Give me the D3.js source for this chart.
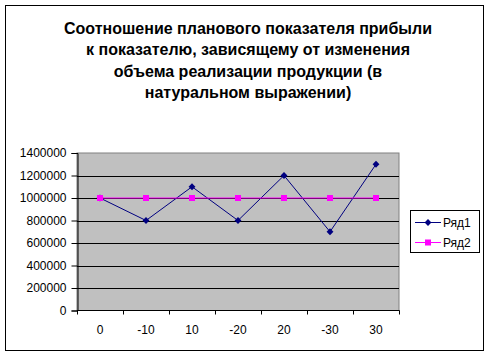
<!DOCTYPE html>
<html><head><meta charset="utf-8">
<script src="https://cdn.jsdelivr.net/npm/d3@7"></script>
<style>body{margin:0;background:#fff}svg{display:block}</style>
</head><body>
<svg id="c" width="490" height="357"></svg>
<script>
const categories = ["0","-10","10","-20","20","-30","30"];
const series1 = [1000000,800000,1100000,800000,1200000,700000,1300000];
const series2 = [1000000,1000000,1000000,1000000,1000000,1000000,1000000];
const seriesNames = ["Ряд1","Ряд2"];
const yTicks = [0,200000,400000,600000,800000,1000000,1200000,1400000];
const titleLines = ["Соотношение планового показателя прибыли","к показателю, зависящему от изменения","объема реализации продукции (в","натуральном выражении)"];

const svg = d3.select("#c");
const font = "'Liberation Sans', Arial, sans-serif";
svg.append("rect").attr("x",5.5).attr("y",5.5).attr("width",478).attr("height",345)
  .attr("fill","#fff").attr("stroke","#000");

const L=77, R=399, T=153, B=310.5;
const x = d3.scaleBand().domain(categories).range([L,R]);
const y = d3.scaleLinear().domain([0,1400000]).range([B,T]);

svg.append("rect").attr("x",L).attr("y",T).attr("width",R-L).attr("height",B-T)
  .attr("fill","#c0c0c0").attr("stroke","#808080");

svg.append("g").selectAll("line").data(yTicks.filter(d=>d>0 && d<1400000)).join("line")
  .attr("x1",L).attr("x2",R).attr("y1",d=>Math.round(y(d))+0.5).attr("y2",d=>Math.round(y(d))+0.5)
  .attr("stroke","#000");

const ya = svg.append("g").attr("transform",`translate(${L+0.5},0)`)
  .call(d3.axisLeft(y).tickValues(yTicks).tickSize(6).tickPadding(5).tickFormat(d3.format("d")));
ya.selectAll("text").attr("font-family",font).attr("font-size",12).attr("fill","#000");
ya.selectAll("line,path").attr("stroke","#000");

const xa = svg.append("g").attr("transform",`translate(0,${B})`);
xa.append("line").attr("x1",L).attr("x2",R+0.5).attr("y1",0).attr("y2",0).attr("stroke","#000");
xa.selectAll("line.t").data(d3.range(categories.length+1)).join("line").attr("class","t")
  .attr("x1",i=>Math.round(L+i*x.step())+0.5).attr("x2",i=>Math.round(L+i*x.step())+0.5)
  .attr("y1",0).attr("y2",4).attr("stroke","#000");
xa.selectAll("text").data(categories).join("text")
  .attr("x",d=>x(d)+x.bandwidth()/2).attr("y",23).attr("text-anchor","middle")
  .attr("font-family",font).attr("font-size",12).text(d=>d);

const line = d3.line().x((d,i)=>x(categories[i])+x.bandwidth()/2).y(d=>y(d));
svg.append("path").datum(series1).attr("d",line).attr("fill","none").attr("stroke","#000080").attr("stroke-width",1);
const diamond = d3.symbol().type(d3.symbolDiamond2).size(30);
svg.append("g").selectAll("path").data(series1).join("path")
  .attr("transform",(d,i)=>`translate(${x(categories[i])+x.bandwidth()/2},${y(d)})`)
  .attr("d",diamond).attr("fill","#000080");
svg.append("path").datum(series2).attr("d",line).attr("fill","none").attr("stroke","#ff00ff").attr("stroke-width",1);
svg.append("g").selectAll("rect").data(series2).join("rect")
  .attr("x",(d,i)=>x(categories[i])+x.bandwidth()/2-3).attr("y",d=>y(d)-3)
  .attr("width",6).attr("height",6).attr("fill","#ff00ff");

// title
svg.append("g").selectAll("text").data(titleLines).join("text")
  .attr("x",248).attr("y",(d,i)=>33.5+i*21.5).attr("text-anchor","middle")
  .attr("font-family",font).attr("font-weight","bold").attr("font-size",16).text(d=>d);

// legend
const lg = svg.append("g");
lg.append("rect").attr("x",410.5).attr("y",210.5).attr("width",69).attr("height",42).attr("fill","#fff").attr("stroke","#000");
const colors=["#000080","#ff00ff"];
seriesNames.forEach((n,i)=>{
  const yy = 222.5 + i*20;
  lg.append("line").attr("x1",415).attr("x2",441).attr("y1",yy).attr("y2",yy).attr("stroke",colors[i]);
  if(i===0) lg.append("path").attr("transform",`translate(428,${yy})`).attr("d",diamond).attr("fill",colors[i]);
  else lg.append("rect").attr("x",425).attr("y",yy-3).attr("width",6).attr("height",6).attr("fill",colors[i]);
  lg.append("text").attr("x",443).attr("y",yy+4.5).attr("font-family",font).attr("font-size",12).text(n);
});
</script>
</body></html>
